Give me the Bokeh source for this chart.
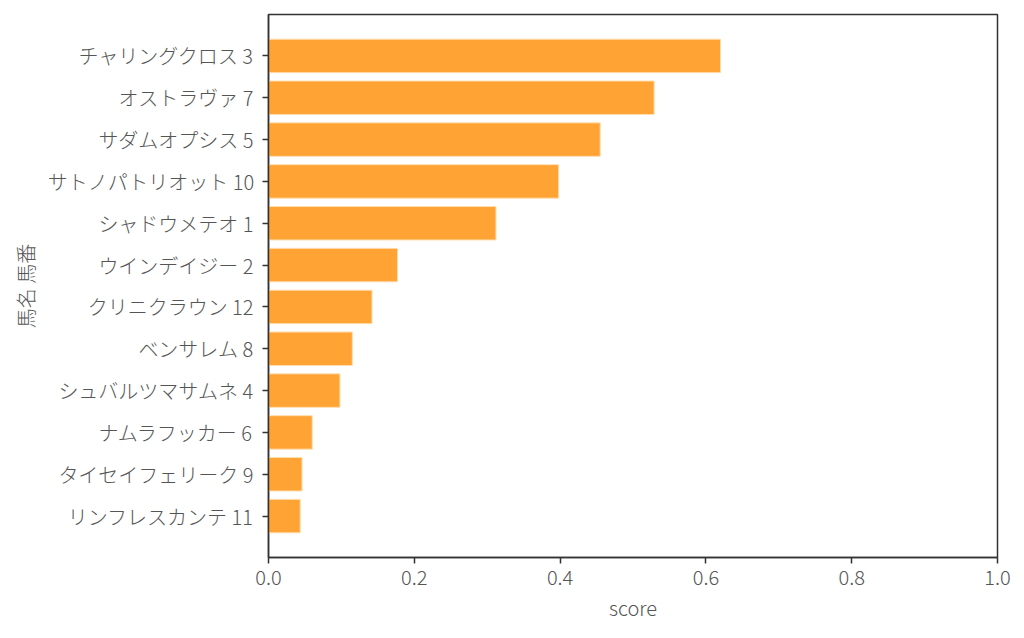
import numpy as np
from bokeh.plotting import figure
from bokeh.models import Range1d, FixedTicker, ColumnDataSource
from bokeh.embed import file_html
from bokeh.resources import INLINE

names = ["チャリングクロス 3", "オストラヴァ 7", "サダムオプシス 5", "サトノパトリオット 10",
         "シャドウメテオ 1", "ウインデイジー 2", "クリニクラウン 12", "ベンサレム 8",
         "シュバルツマサムネ 4", "ナムラフッカー 6", "タイセイフェリーク 9", "リンフレスカンテ 11"]
scores = [0.620, 0.529, 0.455, 0.398, 0.312, 0.177, 0.142, 0.115, 0.098, 0.060, 0.046, 0.0435]
x_ticks = [0.0, 0.2, 0.4, 0.6, 0.8, 1.0]

FONT = "Noto Sans CJK JP Light, Noto Sans CJK JP"
TXT = "#555555"

pos = list(range(len(names)))
src = ColumnDataSource(dict(y=pos, right=scores, name=names))

p = figure(width=1018, height=628, output_backend="svg", toolbar_location=None,
           x_range=Range1d(0, 1), y_range=Range1d(len(names) - 1 + 0.99, -0.99),
           min_border_left=268, min_border_right=21, min_border_top=14, min_border_bottom=71)

p.hbar(y="y", left=0, right="right", height=0.8, source=src,
       fill_color="#FFA334", line_color="#FFDDB0", line_width=1)

p.xgrid.visible = False
p.ygrid.visible = False
p.outline_line_color = "#333333"
p.outline_line_width = 1.5
p.outline_line_alpha = 1

p.xaxis.ticker = FixedTicker(ticks=x_ticks)
p.xaxis.major_label_overrides = {t: f"{t:.1f}" for t in x_ticks}
p.yaxis.ticker = FixedTicker(ticks=pos)
p.yaxis.major_label_overrides = {i: n for i, n in enumerate(names)}

p.xaxis.axis_label = "score"
p.yaxis.axis_label = "馬名 馬番"

for ax in (p.xaxis, p.yaxis):
    ax.axis_line_color = "#333333"
    ax.axis_line_width = 1.5
    ax.major_tick_line_color = "#333333"
    ax.major_tick_line_width = 1.5
    ax.major_tick_out = 6
    ax.major_tick_in = 0
    ax.minor_tick_line_color = None
    ax.major_label_text_font = FONT
    ax.major_label_text_font_size = "20px"
    ax.major_label_text_color = TXT
    ax.axis_label_text_font = FONT
    ax.axis_label_text_font_size = "20px"
    ax.axis_label_text_color = TXT
    ax.axis_label_text_font_style = "normal"

p.xaxis.major_label_standoff = 6
p.yaxis.major_label_standoff = 9
p.xaxis.axis_label_standoff = 5
p.yaxis.axis_label_standoff = 5

html = file_html(p, INLINE)
open("out.html", "w").write(html)
